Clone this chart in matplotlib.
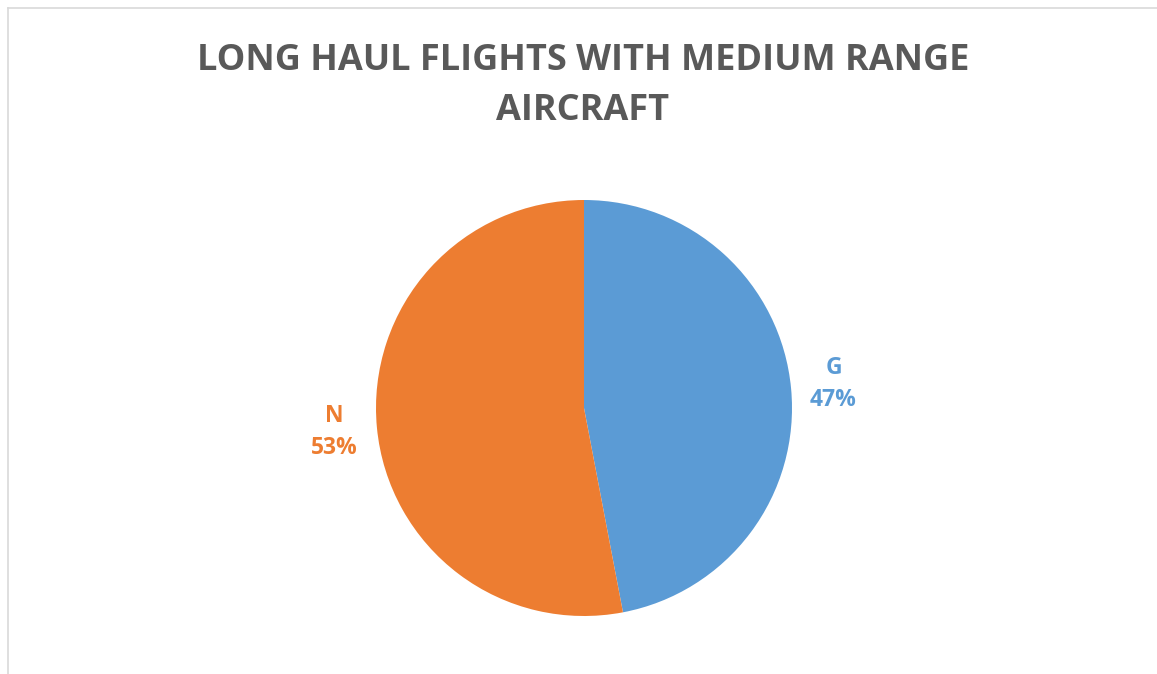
import matplotlib
matplotlib.use("Agg")
import matplotlib.pyplot as plt
from matplotlib.lines import Line2D

categories = ["G", "N"]
values = [47, 53]
colors = ["#5B9BD5", "#ED7D31"]
title_lines = ["LONG HAUL FLIGHTS WITH MEDIUM RANGE", "AIRCRAFT"]

W, H = 1157, 674
fig = plt.figure(figsize=(W / 100, H / 100), dpi=100)
fig.patch.set_facecolor("white")

cx, cy, r = 584, 408, 208
scale = 1.5
ax = fig.add_axes([(cx - r * scale) / W, (H - cy - r * scale) / H,
                   2 * r * scale / W, 2 * r * scale / H])
ax.set_xlim(-scale, scale)
ax.set_ylim(-scale, scale)
ax.set_aspect("equal")
ax.axis("off")

total = sum(values)
labels = [f"{c}\n{round(v / total * 100)}%" for c, v in zip(categories, values)]
wedges, texts = ax.pie(values, colors=colors, startangle=90, counterclock=False,
                       labels=labels, labeldistance=1.205,
                       wedgeprops=dict(linewidth=0),
                       textprops=dict(fontsize=16.5, fontweight="bold", family="Open Sans",
                                      linespacing=1.45))
for t, c in zip(texts, colors):
    t.set_color(c)
    t.set_horizontalalignment("center")
    t.set_verticalalignment("center")
ax.set_xlim(-scale, scale)
ax.set_ylim(-scale, scale)

for txt, y in zip(title_lines, [61, 111]):
    fig.text(583 / W, 1 - y / H, txt, ha="center", va="center",
             fontsize=26, fontweight="bold", color="#595959", family="Open Sans")

fig.add_artist(Line2D([8 / W, 1], [1 - 8 / H, 1 - 8 / H], color="#D9D9D9", lw=1.2,
                      transform=fig.transFigure))
fig.add_artist(Line2D([8 / W, 8 / W], [0, 1 - 8 / H], color="#D9D9D9", lw=1.2,
                      transform=fig.transFigure))

fig.savefig("out.png", dpi=100, facecolor="white")
